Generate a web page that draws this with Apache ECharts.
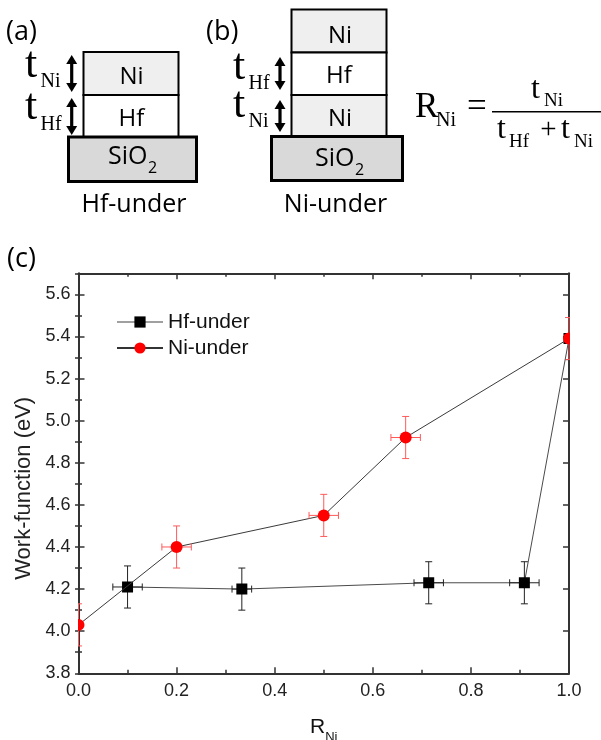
<!DOCTYPE html>
<html>
<head>
<meta charset="utf-8">
<script src="https://cdn.jsdelivr.net/npm/echarts@6/dist/echarts.min.js"></script>
<style>
  html, body { margin: 0; padding: 0; background: #fff; }
  #chart { width: 601px; height: 740px; }
</style>
</head>
<body>
<div id="chart"></div>
<script>
// Work function against the Ni thickness ratio R_Ni for two stack orders.

// Hf-under stacks (Hf at the bottom, Ni on top)
const rNiHfUnder    = [0.1, 0.333, 0.714, 0.909, 1.0];
const wfHfUnder     = [4.21, 4.20, 4.23, 4.23, 5.39];
const rErrHfUnder   = [0.03, 0.02, 0.03, 0.03, 0];
const wfErrHfUnder  = [0.1, 0.1, 0.1, 0.1, 0.1];

// Ni-under stacks (Ni / Hf / Ni)
const rNiNiUnder    = [0, 0.2, 0.5, 0.667, 1.0];
const wfNiUnder     = [4.03, 4.40, 4.55, 4.92, 5.39];
const rErrNiUnder   = [0, 0.03, 0.03, 0.03, 0];
const wfErrNiUnder  = [0.1, 0.1, 0.1, 0.1, 0.1];

const seriesNames = ['Hf-under', 'Ni-under'];

// axis ranges and tick steps
const xRange = [0, 1];
const xMajor = 0.2;
const yRange = [3.8, 5.7];
const yMajor = 0.2;
const yMinor = 0.1;
const yLastLabel = 5.6;

const SANS = '"Liberation Sans", Arial, sans-serif';
const UI = '"Open Sans", sans-serif';
const SERIF = '"Liberation Serif", "Times New Roman", serif';
const AXIS_COLOR = '#333';

// text placed by its baseline
function txt(str, x, base, size, family, align) {
  const k = family === SERIF ? 0.3375 : (family === UI ? 0.388 : 0.3465);
  const a = align || 'left';
  return {
    type: 'text', x: x, y: base - k * size, z: 20,
    style: {
      text: str, fontSize: size, fontFamily: family, fill: '#000',
      align: a, verticalAlign: 'middle', textAlign: a, textVerticalAlign: 'middle'
    }
  };
}

function box(x1, y1, x2, y2, fill, lw) {
  return {
    type: 'rect', z: 10,
    shape: { x: x1, y: y1, width: x2 - x1, height: y2 - y1 },
    style: { fill: fill, stroke: '#000', lineWidth: lw }
  };
}

// vertical double-headed arrow
function arrow(cx, y1, y2) {
  const hw = 5.5, hh = 9;
  return [
    { type: 'rect', z: 12, shape: { x: cx - 1.6, y: y1 + hh - 1, width: 3.2, height: y2 - y1 - 2 * hh + 2 }, style: { fill: '#000' } },
    { type: 'polygon', z: 12, shape: { points: [[cx, y1], [cx - hw, y1 + hh], [cx + hw, y1 + hh]] }, style: { fill: '#000' } },
    { type: 'polygon', z: 12, shape: { points: [[cx, y2], [cx - hw, y2 - hh], [cx + hw, y2 - hh]] }, style: { fill: '#000' } }
  ];
}

const NI_FILL = '#efefef';
const OX_FILL = '#d9d9d9';

const schematic = [
  // (a) Hf-under stack
  txt('(a)', 6, 43, 27, UI),
  box(83.5, 52, 178.5, 95, NI_FILL, 2),
  box(83.5, 95, 178.5, 137, '#ffffff', 2),
  box(68.5, 137, 196.5, 181.5, OX_FILL, 3),
  txt('Ni', 131.5, 86, 24, UI, 'center'),
  txt('Hf', 131.5, 128.5, 24, UI, 'center'),
  txt('SiO', 108, 167, 25, UI),
  txt('2', 148, 175, 16, UI),
  txt('t', 25, 80, 44, SERIF),
  txt('Ni', 40.5, 88, 20, SERIF),
  txt('t', 25, 122, 44, SERIF),
  txt('Hf', 40.5, 131.5, 20, SERIF),
  ...arrow(71.7, 55, 92),
  ...arrow(71.7, 98, 135),
  txt('Hf-under', 134, 215, 25, UI, 'center'),

  // (b) Ni-under stack
  txt('(b)', 206, 43, 27, UI),
  box(291.5, 9.5, 386.5, 52.5, NI_FILL, 2),
  box(291.5, 52.5, 386.5, 95, '#ffffff', 2),
  box(291.5, 95, 386.5, 136.5, NI_FILL, 2),
  box(271.5, 136.5, 402.5, 180.5, OX_FILL, 3),
  txt('Ni', 340, 45, 24, UI, 'center'),
  txt('Hf', 339, 85, 24, UI, 'center'),
  txt('Ni', 340, 128.5, 24, UI, 'center'),
  txt('SiO', 315, 168.5, 25, UI),
  txt('2', 355, 176.5, 16, UI),
  txt('t', 233, 82, 44, SERIF),
  txt('Hf', 248.5, 90, 20, SERIF),
  txt('t', 233, 120, 44, SERIF),
  txt('Ni', 248.5, 128.5, 20, SERIF),
  ...arrow(280, 57, 90),
  ...arrow(280, 100, 132),
  txt('Ni-under', 335.5, 215, 25, UI, 'center'),

  // ratio definition
  txt('R', 415, 120, 35, SERIF),
  txt('Ni', 436, 127, 20, SERIF),
  txt('=', 467, 120, 35, SERIF),
  { type: 'line', z: 12, shape: { x1: 492, y1: 111.7, x2: 601, y2: 111.7 }, style: { stroke: '#000', lineWidth: 1.5 } },
  txt('t', 531, 100, 32, SERIF),
  txt('Ni', 544, 107, 19, SERIF),
  txt('t', 497, 140, 32, SERIF),
  txt('Hf', 509, 148.3, 19, SERIF),
  txt('+', 548.5, 140, 29, SERIF, 'center'),
  txt('t', 561, 140, 32, SERIF),
  txt('Ni', 574, 148.3, 19, SERIF),

  // (c) panel label
  txt('(c)', 7, 270, 27, UI)
];

// error bars, connecting segment and marker for one point
function makeRender(xs, ys, xErr, yErr, st) {
  return function (params, api) {
    const i = params.dataIndex;
    const p = api.coord([xs[i], ys[i]]);
    const ch = [];
    if (i + 1 < xs.length) {
      const q = api.coord([xs[i + 1], ys[i + 1]]);
      ch.push({ type: 'line', shape: { x1: p[0], y1: p[1], x2: q[0], y2: q[1] }, style: { stroke: st.line, lineWidth: 1 } });
    }
    const cap = 3.5;
    const es = { stroke: st.err, lineWidth: 1 };
    if (yErr[i]) {
      const a = api.coord([xs[i], ys[i] + yErr[i]]);
      const b = api.coord([xs[i], ys[i] - yErr[i]]);
      ch.push({ type: 'line', shape: { x1: a[0], y1: a[1], x2: b[0], y2: b[1] }, style: es });
      ch.push({ type: 'line', shape: { x1: a[0] - cap, y1: a[1], x2: a[0] + cap, y2: a[1] }, style: es });
      ch.push({ type: 'line', shape: { x1: b[0] - cap, y1: b[1], x2: b[0] + cap, y2: b[1] }, style: es });
    }
    if (xErr[i]) {
      const l = api.coord([xs[i] - xErr[i], ys[i]]);
      const r = api.coord([xs[i] + xErr[i], ys[i]]);
      ch.push({ type: 'line', shape: { x1: l[0], y1: l[1], x2: r[0], y2: r[1] }, style: es });
      ch.push({ type: 'line', shape: { x1: l[0], y1: l[1] - cap, x2: l[0], y2: l[1] + cap }, style: es });
      ch.push({ type: 'line', shape: { x1: r[0], y1: r[1] - cap, x2: r[0], y2: r[1] + cap }, style: es });
    }
    if (st.symbol === 'rect') {
      ch.push({ type: 'rect', shape: { x: p[0] - 5.5, y: p[1] - 5.5, width: 11, height: 11 }, style: { fill: st.color } });
    } else {
      ch.push({ type: 'circle', shape: { cx: p[0], cy: p[1], r: 6 }, style: { fill: st.color } });
    }
    return { type: 'group', children: ch };
  };
}

const lineAxis = { onZero: false, lineStyle: { color: AXIS_COLOR, width: 2 } };
const majorTick = { inside: true, length: 6, lineStyle: { color: AXIS_COLOR, width: 1.5 } };
const minorTickStyle = { show: true, splitNumber: 2, length: 3.5, lineStyle: { color: AXIS_COLOR, width: 1.5 } };
const labelStyle = { fontSize: 18, color: '#222', fontFamily: SANS };

function xAxisDef(pos, withLabels) {
  return {
    type: 'value', position: pos, min: xRange[0], max: xRange[1], interval: xMajor,
    axisLine: lineAxis, axisTick: majorTick, minorTick: minorTickStyle,
    splitLine: { show: false }, minorSplitLine: { show: false },
    axisLabel: withLabels
      ? Object.assign({ margin: 9, formatter: v => v.toFixed(1) }, labelStyle)
      : { show: false }
  };
}

function yAxisDef(pos, step, major, withLabels) {
  return {
    type: 'value', position: pos, min: yRange[0], max: yRange[1], interval: step,
    axisLine: major ? lineAxis : { show: false },
    axisTick: major ? majorTick : { inside: true, length: 3.5, lineStyle: { color: AXIS_COLOR, width: 1.5 } },
    splitLine: { show: false },
    axisLabel: withLabels
      ? Object.assign({ margin: 8, formatter: v => (v > yLastLabel + 0.01 ? '' : v.toFixed(1)) }, labelStyle)
      : { show: false }
  };
}

// "R" with a lowered "Ni" subscript; the spacer token sets the line box height
const xBottom = xAxisDef('bottom', true);
xBottom.name = '{r|R}{s|Ni}{p| }';
xBottom.nameLocation = 'middle';
xBottom.nameGap = 43;
xBottom.nameTextStyle = {
  rich: {
    r: { fontSize: 21, fontFamily: SANS, color: '#111', lineHeight: 22, verticalAlign: 'top' },
    s: { fontSize: 13, fontFamily: SANS, color: '#111', lineHeight: 13, verticalAlign: 'bottom' },
    p: { fontSize: 1, lineHeight: 28, width: 0 }
  }
};

const yLeft = yAxisDef('left', yMajor, true, true);
yLeft.name = 'Work-function (eV)';
yLeft.nameLocation = 'middle';
yLeft.nameGap = 42;
yLeft.nameTextStyle = { fontSize: 22, color: '#222', fontFamily: SANS, padding: [0, 30, 0, 0] };

const option = {
  animation: false,
  backgroundColor: '#fff',
  grid: { left: 78.5, right: 32, top: 273.3, bottom: 66.7, containLabel: false, outerBoundsMode: 'none' },
  xAxis: [xBottom, xAxisDef('top', false)],
  yAxis: [
    yLeft,
    yAxisDef('left', yMinor, false, false),
    yAxisDef('right', yMajor, true, false),
    yAxisDef('right', yMinor, false, false)
  ],
  legend: {
    data: seriesNames,
    orient: 'vertical',
    left: 111, top: 306,
    itemWidth: 46, itemHeight: 14, itemGap: 4,
    textStyle: { fontSize: 21, color: '#111', fontFamily: SANS, lineHeight: 22 }
  },
  graphic: { elements: schematic },
  series: [
    { type: 'line', name: seriesNames[0], data: [], symbol: 'rect', symbolSize: 11,
      itemStyle: { color: '#000' }, lineStyle: { color: '#a0a0a0', width: 1 } },
    { type: 'line', name: seriesNames[1], data: [], symbol: 'circle', symbolSize: 12,
      itemStyle: { color: '#ff0000' }, lineStyle: { color: '#333', width: 1 } },
    {
      type: 'custom', name: seriesNames[0], clip: true, z: 3,
      data: rNiHfUnder.map((x, i) => [x, wfHfUnder[i]]),
      encode: { x: 0, y: 1 },
      renderItem: makeRender(rNiHfUnder, wfHfUnder, rErrHfUnder, wfErrHfUnder,
        { line: '#4a4a4a', err: '#222', color: '#000', symbol: 'rect' })
    },
    {
      type: 'custom', name: seriesNames[1], clip: true, z: 4,
      data: rNiNiUnder.map((x, i) => [x, wfNiUnder[i]]),
      encode: { x: 0, y: 1 },
      renderItem: makeRender(rNiNiUnder, wfNiUnder, rErrNiUnder, wfErrNiUnder,
        { line: '#3a3a3a', err: '#ff5a5a', color: '#ff0000', symbol: 'circle' })
    }
  ]
};

const chart = echarts.init(document.getElementById('chart'), null, { renderer: 'canvas' });
chart.setOption(option);
</script>
</body>
</html>
